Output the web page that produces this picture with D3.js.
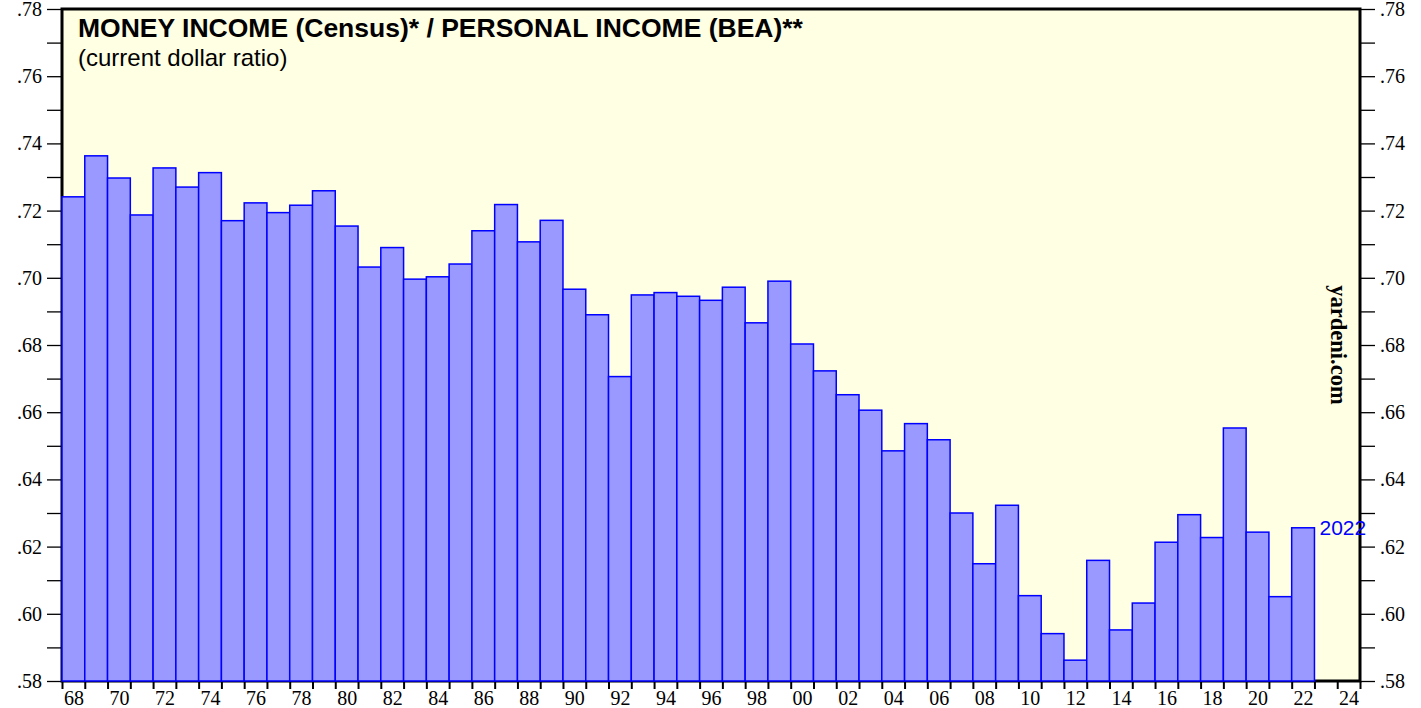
<!DOCTYPE html>
<html><head><meta charset="utf-8">
<script src="https://cdn.jsdelivr.net/npm/d3@7"></script>
<style>html,body{margin:0;padding:0;background:#fff;} svg{display:block;}</style>
</head><body>
<svg id="chart" width="1421" height="708"></svg>
<script>
const years = d3.range(1968, 2023);
const ratio = [
  0.7241, 0.7363, 0.7297, 0.7187, 0.7327, 0.7270, 0.7313, 0.7170, 0.7223, 0.7194,
  0.7216, 0.7259, 0.7154, 0.7032, 0.7090, 0.6996, 0.7003, 0.7041, 0.7140, 0.7218,
  0.7107, 0.7171, 0.6966, 0.6890, 0.6706, 0.6949, 0.6956, 0.6945, 0.6933, 0.6972,
  0.6866, 0.6990, 0.6803, 0.6723, 0.6652, 0.6606, 0.6485, 0.6566, 0.6518, 0.6300,
  0.6149, 0.6323, 0.6054, 0.5941, 0.5862, 0.6159, 0.5952, 0.6032, 0.6213, 0.6295,
  0.6227, 0.6553, 0.6243, 0.6051, 0.6256
];
const yTicks = d3.range(58, 79).map(v => v / 100);
const xTickYears = d3.range(1968, 2026);
const xLabelYears = d3.range(1968, 2025, 2);
const titleText = "MONEY INCOME (Census)* / PERSONAL INCOME (BEA)**";
const subtitleText = "(current dollar ratio)";
const lastLabel = "2022";
const credit = "yardeni.com";

const svg = d3.select("#chart");
const L = 62, R = 1360, T = 9, B = 681;
const x = d3.scaleLinear().domain([1968, 2025]).range([L, R]);
const y = d3.scaleLinear().domain([0.58, 0.78]).range([B, T]);

// plot background
svg.append("rect").attr("x", L).attr("y", T).attr("width", R - L).attr("height", B - T)
  .attr("fill", "#FFFFE3");

// frame
svg.append("rect").attr("x", L).attr("y", T).attr("width", R - L).attr("height", B - T)
  .attr("fill", "none").attr("stroke", "#000").attr("stroke-width", 3);

const serif = "'Liberation Serif','Times New Roman',serif";
const sans = "'Liberation Sans',Arial,sans-serif";
const fmtY = d => d3.format(".2f")(d).replace(/^0/, "");

// left axis
const yl = svg.append("g").attr("transform", `translate(${L},0)`)
  .call(d3.axisLeft(y).tickValues(yTicks).tickSize(15).tickPadding(5)
    .tickFormat(d => Math.round(d * 100) % 2 === 0 ? fmtY(d) : ""));
// right axis
const yr = svg.append("g").attr("transform", `translate(${R},0)`)
  .call(d3.axisRight(y).tickValues(yTicks).tickSize(15).tickPadding(5)
    .tickFormat(d => Math.round(d * 100) % 2 === 0 ? fmtY(d) : ""));
[yl, yr].forEach(g => {
  g.select(".domain").remove();
  g.selectAll("line").attr("stroke", "#000").attr("stroke-width", 1.3);
  g.selectAll("text").attr("font-family", serif).attr("font-size", 20).attr("fill", "#000");
});

// bottom ticks
const xb = svg.append("g").attr("transform", `translate(0,${B})`)
  .call(d3.axisBottom(x).tickValues(xTickYears).tickSize(8).tickFormat(""));
xb.select(".domain").remove();
xb.selectAll("line").attr("stroke", "#000").attr("stroke-width", 2);
// bottom labels
const xl = svg.append("g").attr("transform", `translate(0,${B})`)
  .call(d3.axisBottom(x).tickValues(xLabelYears.map(v => v + 0.5)).tickSize(0).tickPadding(10)
    .tickFormat(d => String(Math.floor(d) % 100).padStart(2, "0")));
xl.select(".domain").remove();
xl.selectAll("text").attr("font-family", serif).attr("font-size", 20).attr("fill", "#000");

// bars
svg.append("g").selectAll("rect").data(years.map((yr, i) => ({yr, v: ratio[i]}))).join("rect")
  .attr("x", d => x(d.yr))
  .attr("width", d => x(d.yr + 1) - x(d.yr))
  .attr("y", d => y(d.v))
  .attr("height", d => y(0.58) - y(d.v))
  .attr("fill", "#9999FF")
  .attr("stroke", "#0000FF")
  .attr("stroke-width", 1.5);

// last value label
svg.append("text").attr("x", x(2023) + 5).attr("y", y(ratio[ratio.length - 1]) + 7.5)
  .attr("font-family", sans).attr("font-size", 21).attr("fill", "#0000FF").text(lastLabel);

// titles
svg.append("text").attr("x", 78).attr("y", 37).attr("font-family", sans).attr("font-weight", "bold")
  .attr("font-size", 26.5).attr("fill", "#000").text(titleText);
svg.append("text").attr("x", 78).attr("y", 66).attr("font-family", sans)
  .attr("font-size", 24).attr("fill", "#000").text(subtitleText);

// credit
svg.append("text").attr("transform", `translate(1331,345) rotate(90)`)
  .attr("text-anchor", "middle").attr("font-family", serif).attr("font-weight", "bold")
  .attr("font-size", 22.5).attr("fill", "#000").text(credit);
</script>
</body></html>
